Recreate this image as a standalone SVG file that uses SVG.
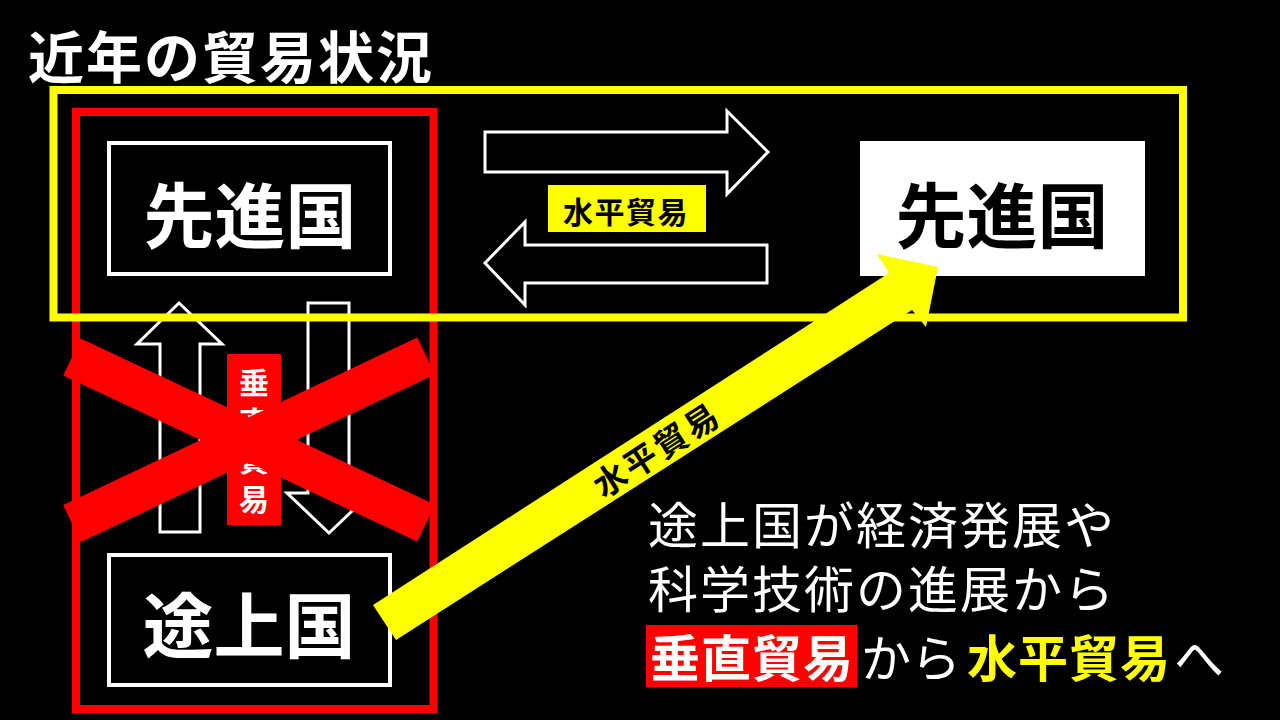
<svg xmlns="http://www.w3.org/2000/svg" width="1280" height="720" viewBox="0 0 1280 720">
<style>
.jp{font-family:"Noto Sans CJK JP","Noto Sans CJK SC",sans-serif;}
.b{font-weight:700;}
.outline{fill:#000;stroke:#fff;stroke-width:3;stroke-linejoin:miter;}
.box{fill:#000;stroke:#fff;stroke-width:4;}
</style>
<rect x="0" y="0" width="1280" height="720" fill="#000"/>
<text id="title" class="jp b" x="28" y="78" font-size="56" letter-spacing="2" fill="#fff">近年の貿易状況</text>

<g id="red-frame"><rect x="76" y="112" width="357.5" height="597" fill="none" stroke="#f00" stroke-width="8"/></g>

<g id="connectors">
<polygon id="arrow-right" class="outline" points="485,132 727,132 727,111 768,152 727,194 727,172 485,172"/>
<polygon id="arrow-left" class="outline" points="767,245 525,245 525,222 485,263 525,305 525,283 767,283"/>
<polygon id="arrow-up" class="outline" points="179,303 222,344 200,344 200,532 160,532 160,344 137,344"/>
<polygon id="arrow-down" class="outline" points="308,303 349,303 349,493 371,493 329,533 287,493 308,493"/>
</g>

<g id="yellow-frame"><rect x="53.5" y="90" width="1129.5" height="227.5" fill="none" stroke="#ff0" stroke-width="8"/></g>

<g id="label-horizontal">
<rect x="548" y="185" width="158" height="47" fill="#ff0"/>
<text class="jp b" x="626" y="223" font-size="30" letter-spacing="1.5" text-anchor="middle" fill="#000">水平貿易</text>
</g>

<g id="label-vertical">
<rect x="227" y="354" width="54" height="171" fill="#f00"/>
<text class="jp b" x="254" y="368" font-size="30" letter-spacing="8.5" writing-mode="vertical-rl" style="writing-mode:vertical-rl" fill="#fff">垂直貿易</text>
</g>

<g id="cross">
<line x1="72" y1="357" x2="426" y2="523" stroke="#f00" stroke-width="41"/>
<line x1="72" y1="523.5" x2="426" y2="356" stroke="#f00" stroke-width="41"/>
</g>

<g id="node-developed-left">
<rect class="box" x="109" y="143" width="281" height="131"/>
<text class="jp b" x="250" y="242" font-size="71" text-anchor="middle" fill="#fff">先進国</text>
</g>

<g id="node-developing">
<rect class="box" x="109" y="555" width="281" height="130"/>
<text class="jp b" x="249" y="652" font-size="71" text-anchor="middle" fill="#fff">途上国</text>
</g>

<g id="node-developed-right">
<rect x="860" y="141" width="285" height="135" fill="#fff"/>
<text class="jp b" x="1002" y="241.5" font-size="71" text-anchor="middle" fill="#000">先進国</text>
</g>

<g id="big-arrow">
<polygon points="373,605 889,273 877,254 938,267 926,327 912,310 396,640" fill="#ff0"/>
<text class="jp b" transform="translate(657,450) rotate(-32.8)" x="0" y="12" font-size="33" letter-spacing="3" text-anchor="middle" fill="#000">水平貿易</text>
</g>

<g id="caption">
<rect x="646" y="625" width="211" height="62" fill="#f00"/>
<text class="jp" font-size="50" fill="#fff"><tspan x="648" y="544" letter-spacing="2">途上国が経済発展や</tspan><tspan x="648" y="608" letter-spacing="2">科学技術の進展から</tspan><tspan x="650" y="677" font-weight="700" letter-spacing="1">垂直貿易</tspan><tspan x="861" y="677">から</tspan><tspan x="967" y="677" font-weight="700" letter-spacing="1" fill="#ff0">水平貿易</tspan><tspan x="1174" y="677">へ</tspan></text>
</g>
</svg>
